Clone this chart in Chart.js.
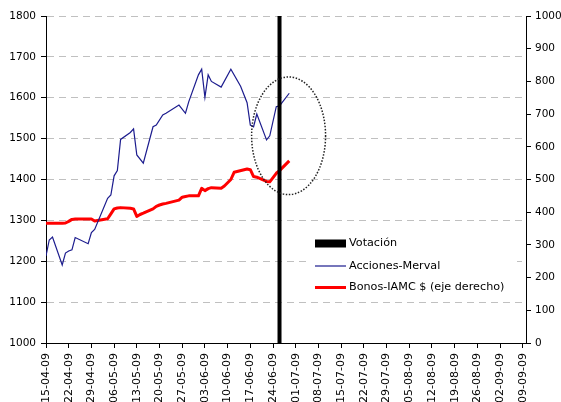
<!DOCTYPE html>
<html>
<head>
<meta charset="utf-8">
<script src="https://cdn.jsdelivr.net/npm/chart.js@4.4.1/dist/chart.umd.min.js"></script>
<style>
html,body{margin:0;padding:0;background:#fff;}
#wrap{width:561px;height:402px;}
</style>
</head>
<body>
<div id="wrap"><canvas id="c" width="561" height="402"></canvas></div>
<script>
// ---- data (x = days since 15-04-09) ----
const tickLabels = ['15-04-09','22-04-09','29-04-09','06-05-09','13-05-09','20-05-09','27-05-09','03-06-09','10-06-09','17-06-09','24-06-09','01-07-09','08-07-09','15-07-09','22-07-09','29-07-09','05-08-09','12-08-09','19-08-09','26-08-09','02-09-09','09-09-09'];
const tickDays = [0,7,14,21,28,35,42,49,56,63,70,77,84,91,98,105,112,119,126,133,140,147];

const accionesDays   = [0,1,2,5,6,7,8,9,13,14,15,19,20,21,22,23,26,27,28,30,33,34,36,37,41,43,44,47,48,49,50,51,54,57,60,62,63,64,65,68,69,71,72,75];
const accionesValues = [1213,1252,1259,1191,1220,1225,1228,1258,1243,1270,1278,1354,1362,1409,1422,1498,1515,1524,1460,1440,1529,1533,1558,1562,1582,1562,1590,1656,1670,1601,1656,1640,1626,1670,1628,1588,1533,1529,1560,1497,1507,1578,1580,1611];

const bonosDays   = [0,1,2,5,6,7,8,9,13,14,15,19,20,21,22,23,26,27,28,29,30,33,34,35,36,37,41,42,43,44,47,48,49,50,51,54,55,56,57,58,62,63,64,65,68,69,71,72,75];
const bonosValues = [366,366,366,366,367,372,378,379,379,379,373,380,395,410,413,414,412,410,387,393,397,410,418,422,425,427,437,446,448,450,450,473,466,472,475,473,480,490,500,522,532,530,509,507,494,493,519,527,557];

const voteDay = 72;
const seriesNames = ['Votación','Acciones-Merval','Bonos-IAMC $ (eje derecho)'];

// highlighted zone (dotted ellipse) in data units
const noteCenterDay = 74.8, noteCenterValue = 1507, noteRadiusDays = 11.4, noteRadiusValue = 144;

// ---- build ----
const toPts = (xs, ys) => xs.map((x, i) => ({x: x, y: ys[i]}));
const FONT = '"DejaVu Sans", Verdana, sans-serif';

const notePlugin = {
  id: 'note',
  afterDatasetsDraw(chart) {
    const {ctx, scales} = chart;
    const cx = scales.x.getPixelForValue(noteCenterDay);
    const cy = scales.y.getPixelForValue(noteCenterValue);
    const rx = Math.abs(scales.x.getPixelForValue(noteCenterDay + noteRadiusDays) - cx);
    const ry = Math.abs(scales.y.getPixelForValue(noteCenterValue + noteRadiusValue) - cy);
    ctx.save();
    ctx.strokeStyle = '#222';
    ctx.lineWidth = 1.5;
    ctx.setLineDash([1.5, 1.6]);
    ctx.beginPath();
    ctx.ellipse(cx, cy, rx, ry, 0, 0, Math.PI * 2);
    ctx.stroke();
    ctx.restore();
  }
};

const legendPlugin = {
  id: 'boxLegend',
  afterDraw(chart) {
    const ctx = chart.ctx;
    const x0 = 315, rows = [243.5, 266, 287.5];
    ctx.save();
    ctx.fillStyle = '#fff';
    ctx.fillRect(311, 230, 206, 68);
    chart.data.datasets.forEach((ds, i) => {
      const y = rows[i];
      if (i === 0) {
        ctx.fillStyle = ds.borderColor;
        ctx.fillRect(x0, y - 4, 31, 8);
      } else {
        ctx.strokeStyle = ds.borderColor;
        ctx.lineWidth = ds.borderWidth;
        ctx.beginPath();
        ctx.moveTo(x0, y);
        ctx.lineTo(x0 + 31, y);
        ctx.stroke();
      }
      ctx.fillStyle = '#000';
      ctx.font = '11.2px ' + FONT;
      ctx.textBaseline = 'middle';
      ctx.textAlign = 'left';
      ctx.fillText(ds.label, x0 + 34, y);
    });
    ctx.restore();
  }
};

new Chart(document.getElementById('c'), {
  type: 'line',
  data: {
    datasets: [
      {
        label: seriesNames[0],
        data: [{x: voteDay, y: 1000}, {x: voteDay, y: 1800}],
        borderColor: '#000', backgroundColor: '#000', borderWidth: 4,
        pointRadius: 0, yAxisID: 'y', borderCapStyle: 'butt'
      },
      {
        label: seriesNames[1],
        data: toPts(accionesDays, accionesValues),
        borderColor: '#1c1c8e', backgroundColor: '#1c1c8e', borderWidth: 1.2,
        pointRadius: 0, tension: 0, yAxisID: 'y'
      },
      {
        label: seriesNames[2],
        data: toPts(bonosDays, bonosValues),
        borderColor: '#ff0000', backgroundColor: '#ff0000', borderWidth: 3,
        pointRadius: 0, tension: 0, yAxisID: 'y1', borderJoinStyle: 'round'
      }
    ]
  },
  options: {
    responsive: false,
    animation: false,
    devicePixelRatio: 1,
    layout: {padding: {top: 16, left: 0, right: 0, bottom: 0}},
    plugins: {legend: {display: false}, tooltip: {enabled: false}},
    scales: {
      x: {
        type: 'linear', min: 0, max: 148,
        afterBuildTicks: s => { s.ticks = tickDays.map(v => ({value: v})); },
        afterFit: s => { s.height = 59; },
        ticks: {
          autoSkip: false, minRotation: 90, maxRotation: 90, padding: 5,
          color: '#000', font: {family: FONT, size: 11},
          callback: v => tickLabels[tickDays.indexOf(v)]
        },
        grid: {drawOnChartArea: false, drawTicks: true, tickLength: 5, tickColor: '#000', tickWidth: 1},
        border: {display: true, color: '#000', width: 1}
      },
      y: {
        position: 'left', min: 1000, max: 1800,
        afterFit: s => { s.width = 46; },
        ticks: {stepSize: 100, padding: 5, color: '#000', font: {family: FONT, size: 10.5}, callback: v => String(v)},
        grid: {color: '#c0c0c0', lineWidth: 1, drawTicks: true, tickLength: 5, tickColor: '#000', tickWidth: 1, tickBorderDash: []},
        border: {display: true, color: '#000', width: 1, dash: [7, 5]}
      },
      y1: {
        position: 'right', min: 0, max: 1000,
        afterFit: s => { s.width = 35; },
        ticks: {stepSize: 100, padding: 4, color: '#000', font: {family: FONT, size: 10.5}, callback: v => String(v)},
        grid: {drawOnChartArea: false, drawTicks: true, tickLength: 5, tickColor: '#000', tickWidth: 1},
        border: {display: true, color: '#000', width: 1}
      }
    }
  },
  plugins: [notePlugin, legendPlugin]
});
</script>
</body>
</html>
